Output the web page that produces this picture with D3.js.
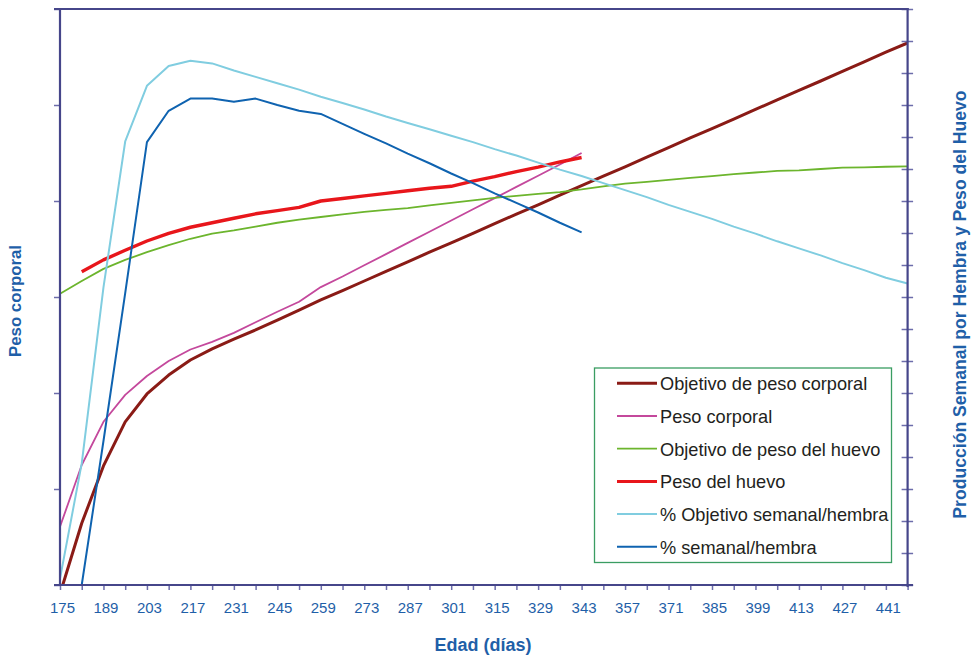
<!DOCTYPE html>
<html>
<head>
<meta charset="utf-8">
<script src="https://cdn.jsdelivr.net/npm/d3@7"></script>
<style>
  html, body { margin: 0; padding: 0; background: #ffffff; }
  svg { display: block; font-family: "Liberation Sans", Arial, sans-serif; }
</style>
</head>
<body>
<svg id="chart" width="971" height="657"></svg>
<script>
// Edad en días (semanas de producción)
const days = [175, 182, 189, 196, 203, 210, 217, 224, 231, 238, 245, 252, 259, 266, 273, 280,
  287, 294, 301, 308, 315, 322, 329, 336, 343, 350, 357, 364, 371, 378, 385, 392, 399, 406,
  413, 420, 427, 434, 441, 448];

// Etiquetas del eje de edad
const dayLabels = [175, 189, 203, 217, 231, 245, 259, 273, 287, 301, 315, 329, 343, 357, 371,
  385, 399, 413, 427, 441];

// Peso corporal (g) — eje izquierdo
const objetivoPesoCorporal = [2372, 2593, 2772, 2910, 2997, 3056, 3103, 3138, 3168, 3197, 3228,
  3259, 3291, 3320, 3350, 3380, 3410, 3440, 3469, 3499, 3529, 3559, 3588, 3618, 3648, 3678,
  3707, 3737, 3767, 3797, 3826, 3856, 3886, 3916, 3946, 3975, 4005, 4035, 4065, 4094];
const pesoCorporal = [2582, 2775, 2910, 2994, 3053, 3100, 3136, 3160, 3188, 3221, 3254, 3285,
  3331, 3364, 3399, 3434, 3469, 3504, 3539, 3574, 3609, 3644, 3679, 3714, 3750,
  null, null, null, null, null, null, null, null, null, null, null, null, null, null, null];

// Peso del huevo (g) — eje derecho
const objetivoPesoHuevo = [45.5, 47.5, 49.4, 50.8, 52.0, 53.1, 54.1, 54.9, 55.4, 56.0, 56.6, 57.1,
  57.5, 57.9, 58.3, 58.6, 58.9, 59.3, 59.7, 60.1, 60.5, 60.8, 61.1, 61.4, 61.8, 62.3, 62.7,
  63.0, 63.3, 63.6, 63.9, 64.2, 64.45, 64.7, 64.8, 65.0, 65.2, 65.25, 65.35, 65.4];
const pesoHuevo = [null, 48.95, 50.8, 52.3, 53.75, 54.95, 55.9, 56.6, 57.3, 58.0, 58.5, 59.0,
  60.0, 60.4, 60.8, 61.2, 61.6, 62.0, 62.3, 63.1, 63.8, 64.6, 65.3, 66.1, 66.8,
  null, null, null, null, null, null, null, null, null, null, null, null, null, null, null];

// Producción semanal por hembra (%) — eje derecho
const objetivoProduccion = [1, 19, 46.5, 69.3, 78.0, 81.1, 81.9, 81.5, 80.4, 79.4, 78.4, 77.4,
  76.3, 75.3, 74.3, 73.2, 72.2, 71.2, 70.2, 69.2, 68.1, 67.1, 66.0, 64.9, 63.9, 62.8, 61.7,
  60.6, 59.4, 58.3, 57.2, 56.0, 54.9, 53.7, 52.6, 51.5, 50.3, 49.2, 48.0, 47.1];
const produccion = [null, 0, 22.5, 45.6, 69.2, 74.1, 76.0, 76.0, 75.5, 76.0, 75.0, 74.1, 73.6,
  72.05, 70.5, 69.0, 67.4, 65.9, 64.3, 62.8, 61.2, 59.7, 58.2, 56.6, 55.1,
  null, null, null, null, null, null, null, null, null, null, null, null, null, null, null];

const leftTicks = [2400, 2700, 3000, 3300, 3600, 3900, 4200];
const rightTicks = d3.range(0, 91, 5);

const series = [
  { name: "Objetivo de peso corporal", values: objetivoPesoCorporal, axis: "left", color: "#8a1b16", width: 3 },
  { name: "Peso corporal", values: pesoCorporal, axis: "left", color: "#c4489c", width: 1.8 },
  { name: "Objetivo de peso del huevo", values: objetivoPesoHuevo, axis: "right", color: "#6cb52d", width: 1.8 },
  { name: "Peso del huevo", values: pesoHuevo, axis: "right", color: "#e8161b", width: 3.4 },
  { name: "% Objetivo semanal/hembra", values: objetivoProduccion, axis: "right", color: "#80cde0", width: 2 },
  { name: "% semanal/hembra", values: produccion, axis: "right", color: "#0f63b0", width: 2 }
];

const plot = { left: 60, right: 907.6, top: 9, bottom: 585 };
const axisColor = "#46468a";
const tickColor = "#6d6dab";
const labelColor = "#1f5fa8";

const svg = d3.select("#chart");

const x = d3.scaleLinear().domain([175, 448]).range([plot.left, plot.right]);
const yLeft = d3.scaleLinear().domain([2400, 4200]).range([plot.bottom, plot.top]);
const yRight = d3.scaleLinear().domain([0, 90]).range([plot.bottom, plot.top]);

svg.append("defs").append("clipPath").attr("id", "plot-clip")
  .append("rect")
  .attr("x", plot.left).attr("y", plot.top)
  .attr("width", plot.right - plot.left).attr("height", plot.bottom - plot.top);

// Líneas de las series
const lines = svg.append("g").attr("clip-path", "url(#plot-clip)");
series.forEach(s => {
  const yScale = s.axis === "left" ? yLeft : yRight;
  const pts = days.map((d, i) => [d, s.values[i]]);
  const line = d3.line()
    .defined(p => p[1] != null)
    .x(p => x(p[0]))
    .y(p => yScale(p[1]));
  lines.append("path")
    .attr("d", line(pts))
    .attr("fill", "none")
    .attr("stroke", s.color)
    .attr("stroke-width", s.width)
    .attr("stroke-linejoin", "round")
    .attr("stroke-linecap", "butt");
});

// Eje inferior (edad)
const xAxis = svg.append("g")
  .attr("transform", `translate(0,${plot.bottom})`)
  .call(d3.axisBottom(x).tickValues(days).tickSize(5).tickSizeOuter(0).tickFormat(""));
xAxis.select(".domain").remove();
xAxis.selectAll(".tick line").attr("stroke", tickColor).attr("stroke-width", 1.5);

svg.append("g").selectAll("text")
  .data(dayLabels)
  .join("text")
  .attr("x", d => x(d) + 2.5)
  .attr("y", 613)
  .attr("text-anchor", "middle")
  .attr("fill", labelColor)
  .attr("font-size", 15)
  .text(d => d);

// Eje izquierdo (peso corporal)
const yAxisL = svg.append("g")
  .attr("transform", `translate(${plot.left},0)`)
  .call(d3.axisLeft(yLeft).tickValues(leftTicks).tickSize(6).tickSizeOuter(0).tickFormat(""));
yAxisL.select(".domain").remove();
yAxisL.selectAll(".tick line").attr("stroke", tickColor).attr("stroke-width", 1.5);

// Eje derecho (producción y peso del huevo), marcas cruzadas
const yAxisR = svg.append("g")
  .attr("transform", `translate(${plot.right},0)`)
  .call(d3.axisRight(yRight).tickValues(rightTicks).tickSize(6).tickSizeOuter(0).tickFormat(""));
yAxisR.select(".domain").remove();
yAxisR.selectAll(".tick line")
  .attr("x1", -6).attr("x2", 5.5)
  .attr("stroke", tickColor).attr("stroke-width", 1.5);

// Marco del área de trazado
const frame = svg.append("g").attr("stroke", axisColor).attr("stroke-width", 2.2).attr("fill", "none");
frame.append("line").attr("x1", plot.left).attr("x2", plot.left).attr("y1", plot.top).attr("y2", plot.bottom);
frame.append("line").attr("x1", plot.right).attr("x2", plot.right).attr("y1", plot.top - 1).attr("y2", plot.bottom + 2);
frame.append("line").attr("x1", plot.left - 6).attr("x2", plot.right + 1).attr("y1", plot.top).attr("y2", plot.top);
frame.append("line").attr("x1", plot.left - 6).attr("x2", plot.right + 5.5).attr("y1", plot.bottom).attr("y2", plot.bottom);

// Títulos de los ejes
svg.append("text")
  .attr("x", 483).attr("y", 651)
  .attr("text-anchor", "middle")
  .attr("font-weight", "bold").attr("font-size", 18)
  .attr("fill", labelColor)
  .text("Edad (días)");

svg.append("text")
  .attr("transform", "translate(21,301) rotate(-90)")
  .attr("text-anchor", "middle")
  .attr("font-weight", "bold").attr("font-size", 16.8)
  .attr("fill", labelColor)
  .text("Peso corporal");

svg.append("text")
  .attr("transform", "translate(966,304.5) rotate(-90)")
  .attr("text-anchor", "middle")
  .attr("font-weight", "bold").attr("font-size", 17.6)
  .attr("fill", labelColor)
  .text("Producción Semanal por Hembra y Peso del Huevo");

// Leyenda
const legend = svg.append("g");
legend.append("rect")
  .attr("x", 594.5).attr("y", 368)
  .attr("width", 297).attr("height", 194.5)
  .attr("fill", "#ffffff")
  .attr("stroke", "#3a9d62").attr("stroke-width", 1.3);

const rows = legend.selectAll("g.row")
  .data(series)
  .join("g")
  .attr("class", "row")
  .attr("transform", (d, i) => `translate(0,${383.3 + i * 32.7})`);
rows.append("line")
  .attr("x1", 617).attr("x2", 657)
  .attr("y1", 0).attr("y2", 0)
  .attr("stroke", d => d.color)
  .attr("stroke-width", d => Math.min(d.width, 3));
rows.append("text")
  .attr("x", 660).attr("y", 7)
  .attr("font-size", 18.2)
  .attr("fill", "#231f20")
  .text(d => d.name);
</script>
</body>
</html>
